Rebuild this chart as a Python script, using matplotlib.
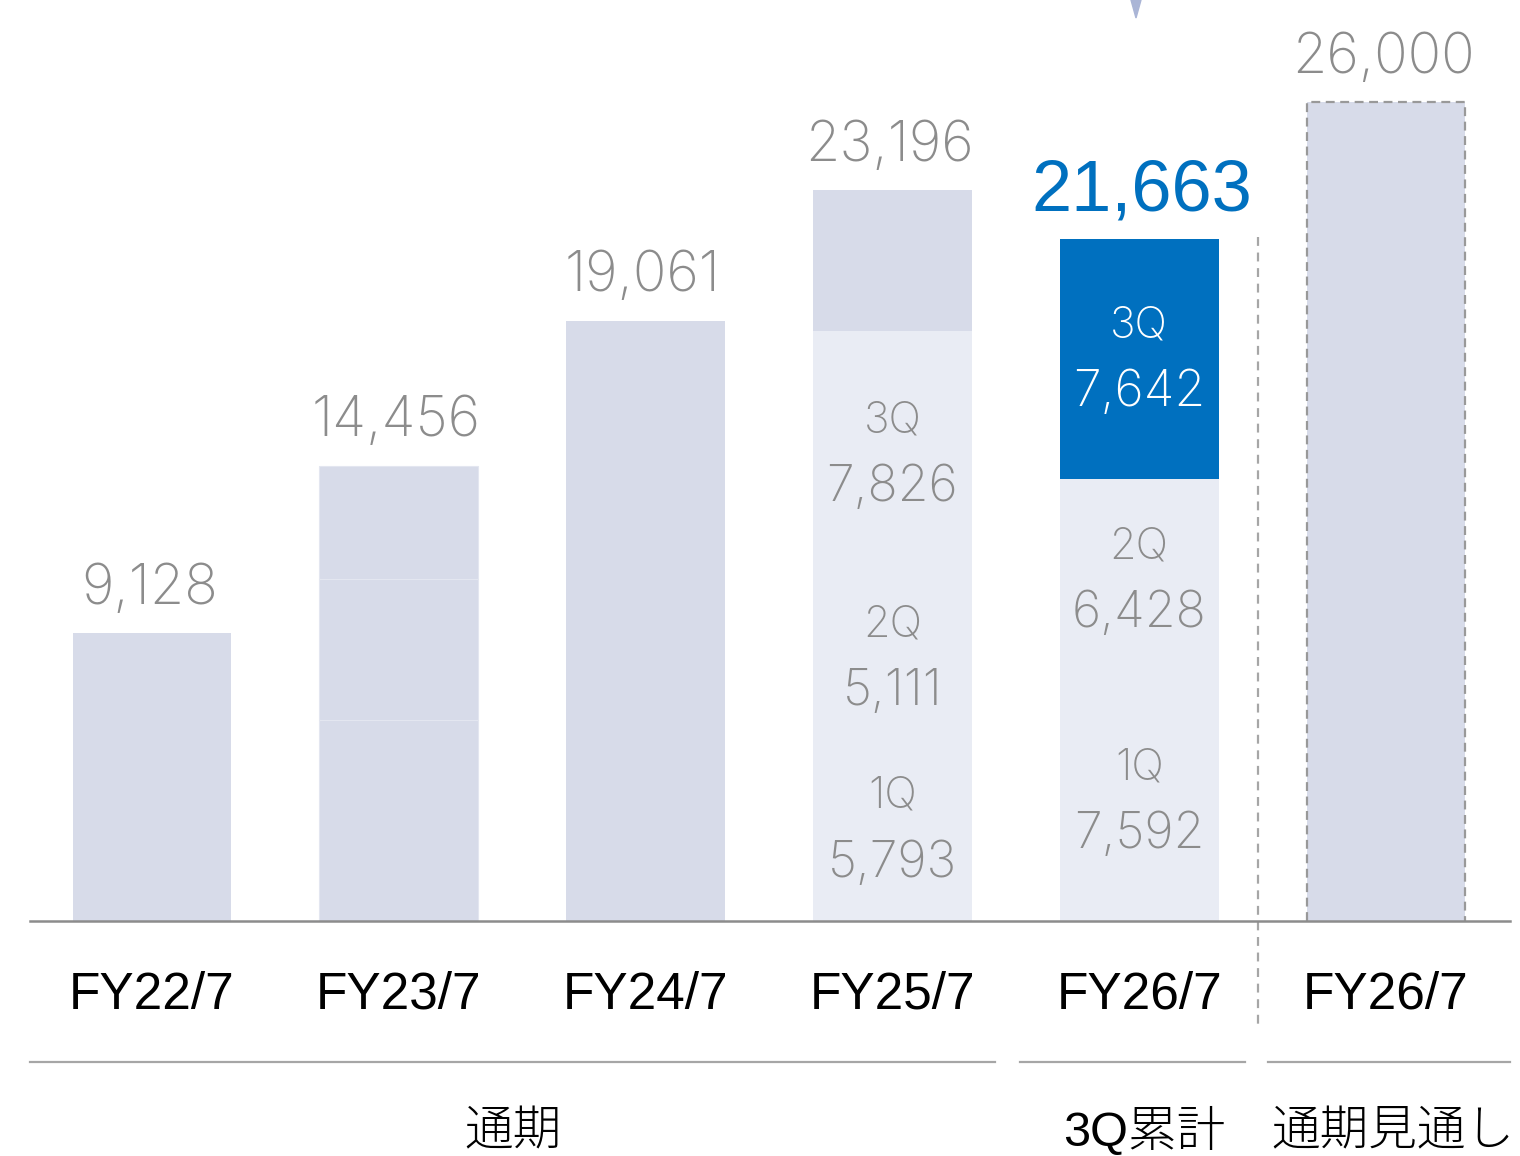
import numpy as np
import matplotlib.pyplot as plt
from matplotlib.patches import Polygon

plt.rcParams["font.family"] = ["Liberation Sans", "Noto Sans CJK JP", "DejaVu Sans"]
THIN = ["Inter", "Noto Sans CJK JP"]
JP = ["Noto Sans CJK JP"]

# data
years = ["FY22/7", "FY23/7", "FY24/7", "FY25/7", "FY26/7", "FY26/7"]
totals = [9128, 14456, 19061, 23196, 21663, 26000]
total_labels = ["9,128", "14,456", "19,061", "23,196", "21,663", "26,000"]
fy23_parts = [6381, 4476, 3599]
quarters = ["1Q", "2Q", "3Q"]
fy25_q = [5793, 5111, 7826]
fy26_q = [7592, 6428, 7642]
groups = ["通期", "3Q累計", "通期見通し"]

LIGHT = "#d7dbe9"
PALE = "#e9ecf4"
BLUE = "#0070bf"
GRAY = "#8c8c8c"

fig = plt.figure(figsize=(15.2, 11.56), dpi=100)
ax = fig.add_axes([0, 0, 1, 1])
ax.set_xlim(-0.616, 5.543)
ax.set_ylim(-7460, 29238)
ax.axis("off")

x = np.arange(len(years))
w = 0.644


def quarter_label(xc, yc, q, v, color):
    ax.annotate(q, (xc, yc), xytext=(0, 24), textcoords="offset points",
                ha="center", va="center", fontsize=31, color=color,
                family=THIN, fontweight="light", zorder=3)
    ax.annotate(f"{v:,}", (xc, yc), xytext=(0, -24), textcoords="offset points",
                ha="center", va="center", fontsize=36, color=color,
                family=THIN, fontweight="light", zorder=3)


# FY22, FY24 plain bars
for i in (0, 2):
    ax.bar(x[i], totals[i], w, color=LIGHT, zorder=2)

# FY23 with faint part lines
bottom = 0
for v in fy23_parts:
    ax.bar(x[1], v, w, bottom=bottom, color=LIGHT, edgecolor="#e3e6f0", linewidth=0.8, zorder=2)
    bottom += v

# FY25: quarters pale, 4Q remainder darker
bottom = 0
for q, v in zip(quarters, fy25_q):
    ax.bar(x[3], v, w, bottom=bottom, color=PALE, zorder=2)
    quarter_label(x[3], bottom + v / 2, q, v, GRAY)
    bottom += v
ax.bar(x[3], totals[3] - bottom, w, bottom=bottom, color=LIGHT, zorder=2)

# FY26 3Q cumulative
bottom = 0
for j, (q, v) in enumerate(zip(quarters, fy26_q)):
    c = BLUE if j == 2 else PALE
    tc = "white" if j == 2 else GRAY
    ax.bar(x[4], v, w, bottom=bottom, color=c, zorder=2)
    quarter_label(x[4], bottom + v / 2, q, v, tc)
    bottom += v

# FY26 forecast, dashed outline
ax.bar(x[5], totals[5], w, color=LIGHT, zorder=2)
ax.plot([x[5] - w / 2, x[5] - w / 2, x[5] + w / 2, x[5] + w / 2],
        [0, totals[5], totals[5], 0], color="#999999", lw=1.6,
        ls=(0, (4, 2.5)), zorder=3)

# total labels
for i, (v, lab) in enumerate(zip(totals, total_labels)):
    if i == 4:
        ax.annotate(lab, (x[i], v), xytext=(2, 20), textcoords="offset points",
                    ha="center", va="baseline", fontsize=52, color=BLUE)
    else:
        ax.annotate(lab, (x[i], v), xytext=(-2, 21), textcoords="offset points",
                    ha="center", va="baseline", fontsize=40, color=GRAY,
                    family=THIN, fontweight="light")

# baseline
ax.plot([-0.494, 5.502], [0, 0], color=GRAY, lw=1.8, zorder=4)

# separator
ax.plot([4.48, 4.48], [21700, -3460], color="#a6a6a6", lw=1.6, ls=(0, (4, 3)), zorder=1)

# year labels
for i, y in enumerate(years):
    ax.text(x[i], -2350, y, ha="center", va="center", fontsize=37, color="black")

# group brackets
spans = [(-0.494, 3.416), (3.517, 4.429), (4.522, 5.502)]
centers = [1.461, 4.02, 5.03]
for (a, b), xc, g in zip(spans, centers, groups):
    ax.plot([a, b], [-4476, -4476], color="#a6a6a6", lw=1.6)
    ax.text(xc, -6680, g, ha="center", va="center", fontsize=35, color="black",
            family=["Liberation Sans", "Noto Sans CJK JP"] if g == "3Q累計" else JP,
            fontweight="light")

# arrow tip cut at top
fig.patches.append(Polygon([[1131 / 1520, 1], [1141 / 1520, 1], [1136 / 1520, 1 - 18 / 1156]],
                           closed=True, transform=fig.transFigure, color="#aab5d6"))

fig.savefig("out.png", dpi=100)
